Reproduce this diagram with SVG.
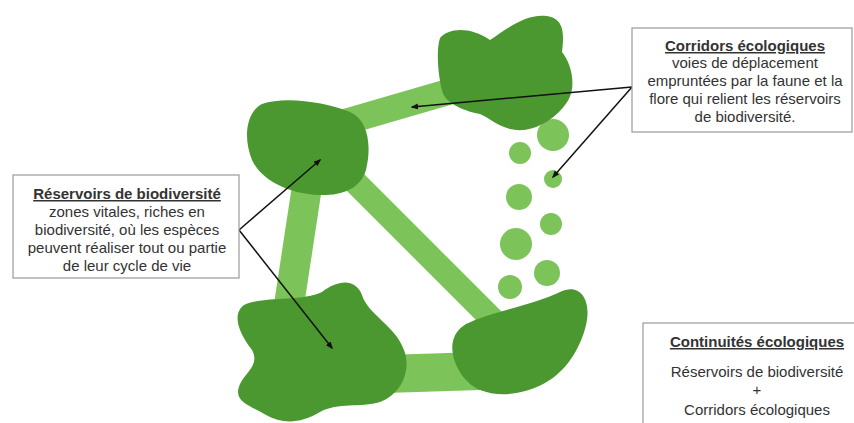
<svg xmlns="http://www.w3.org/2000/svg" width="854" height="423" viewBox="0 0 854 423">
<defs>
<style>
.blob{fill:#4a982f}
.cor{stroke:#7cc35a;fill:none}
.dot{fill:#7cc35a}
.box{fill:#fff;stroke:#9a9a9a;stroke-width:1.2}
.t{font-family:"Liberation Sans",Arial,sans-serif;font-size:15px;fill:#333;text-anchor:middle}
.h{font-weight:bold;text-decoration:underline}
.arr{stroke:#111;stroke-width:1.5;fill:none;marker-end:url(#ah)}
</style>
<marker id="ah" viewBox="0 0 10 10" refX="8" refY="5" markerWidth="5" markerHeight="5" orient="auto">
<path d="M0,1 L10,5 L0,9 z" fill="#111"/>
</marker>
</defs>
<rect width="854" height="423" fill="#fff"/>
<g id="connectors">
<line class="cor" x1="345" y1="122" x2="455" y2="90" stroke-width="26"/>
<line class="cor" x1="308" y1="180" x2="289" y2="305" stroke-width="30"/>
<line class="cor" x1="345" y1="172" x2="495" y2="322" stroke-width="24"/>
<line class="cor" x1="385" y1="374" x2="480" y2="371" stroke-width="38"/>
</g>
<g id="dots">
<circle class="dot" cx="553" cy="135" r="16"/>
<circle class="dot" cx="520" cy="153" r="11"/>
<circle class="dot" cx="553" cy="179" r="9"/>
<circle class="dot" cx="519" cy="197" r="13"/>
<circle class="dot" cx="551" cy="224" r="11"/>
<circle class="dot" cx="516" cy="244" r="16"/>
<circle class="dot" cx="547" cy="273" r="13"/>
<circle class="dot" cx="510" cy="287" r="12"/>
</g>
<g id="reservoir-top-left">
<path class="blob" d="M262,104 C285,96 325,102 350,112 C368,120 372,145 366,170 C360,190 340,196 318,195 C292,194 262,182 252,160 C243,138 246,112 262,104 Z"/>
</g>
<g id="reservoir-top-right">
<path class="blob" d="M440,38 C448,28 470,26 490,40 C505,30 525,14 546,16 C565,18 564,35 562,52 C572,64 578,90 565,105 C552,122 530,134 510,129 C495,125 490,118 480,114 C468,112 444,104 442,90 C438,75 436,50 440,38 Z"/>
</g>
<g id="reservoir-bottom-left">
<path class="blob" d="M244,305 C262,296 300,302 322,292 C338,280 355,278 362,295 C368,315 395,325 404,350 C412,372 400,395 380,402 C360,408 338,402 320,412 C300,424 282,424 266,415 C250,405 232,402 240,384 C246,372 260,365 252,350 C238,332 232,314 244,305 Z"/>
</g>
<g id="reservoir-bottom-right">
<path class="blob" d="M466,324 C490,312 530,306 560,292 C580,282 592,300 586,325 C580,350 565,372 545,383 C525,394 500,398 480,390 C458,380 448,352 454,338 C456,332 460,328 466,324 Z"/>
</g>
<g id="arrows">
<line class="arr" x1="632" y1="87" x2="412" y2="107"/>
<line class="arr" x1="632" y1="87" x2="553" y2="177"/>
<line class="arr" x1="239" y1="230" x2="320" y2="160"/>
<line class="arr" x1="239" y1="230" x2="332" y2="348"/>
</g>
<g id="box-corridors">
<rect class="box" x="632" y="28" width="220" height="104"/>
<text class="t h" x="745" y="51">Corridors écologiques</text>
<text class="t" x="745" y="68">voies de déplacement</text>
<text class="t" x="745" y="86">empruntées par la faune et la</text>
<text class="t" x="745" y="104">flore qui relient les réservoirs</text>
<text class="t" x="745" y="122">de biodiversité.</text>
</g>
<g id="box-reservoirs">
<rect class="box" x="13" y="175" width="226" height="103"/>
<text class="t h" x="127" y="199">Réservoirs de biodiversité</text>
<text class="t" x="127" y="217">zones vitales, riches en</text>
<text class="t" x="127" y="235">biodiversité, où les espèces</text>
<text class="t" x="127" y="253">peuvent réaliser tout ou partie</text>
<text class="t" x="127" y="271">de leur cycle de vie</text>
</g>
<g id="box-continuites">
<rect class="box" x="643" y="323" width="220" height="110"/>
<text class="t h" x="757" y="347">Continuités écologiques</text>
<text class="t" x="757" y="377">Réservoirs de biodiversité</text>
<text class="t" x="757" y="395">+</text>
<text class="t" x="757" y="415">Corridors écologiques</text>
</g>
</svg>
